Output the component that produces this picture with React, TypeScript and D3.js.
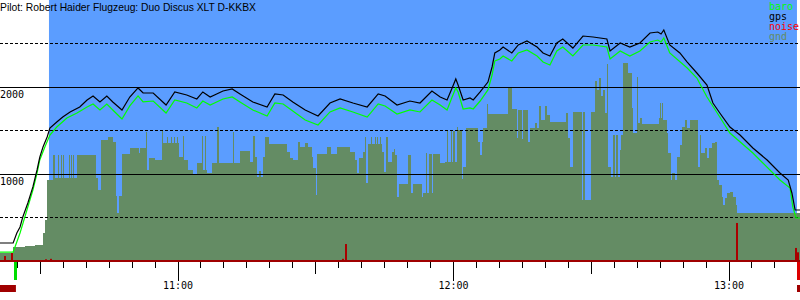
import React from 'react';
import * as d3 from 'd3';

const W = 800;
const H = 300;

const titleText = 'Pilot: Robert Haider Flugzeug: Duo Discus XLT D-KKBX';

// time in minutes after 10:00, altitude in metres
const flightWindow: [number, number] = [31.9, 194.8];
const takeoffMark = 24.6;
const landingMark = 195.2;
const preFlightSpan: [number, number] = [21.2, 24.7];

const solidAltLines = [1000, 2000];
const dashedAltLines = [500, 1500, 2500];
const altLabels = ['1000', '2000'];
const hourTicks = [60, 120, 180];
const hourLabels = ['11:00', '12:00', '13:00'];
const halfHourTicks = [30, 90, 150];

const legendLabels = ['baro', 'gps', 'noise', 'gnd'];
const legendColors = ['#00ff00', '#000000', '#ff0000', '#648c64'];

const groundProfile: [number, number][] = [
  [21.2, 92], [24.1, 161], [26.7, 172], [28.9, 184], [30.6, 322], [31.0, 471], [31.5, 931],
  [32.8, 1218], [33.2, 954], [33.9, 1218], [34.1, 954], [34.5, 1218], [34.7, 954], [35.0, 1218],
  [35.2, 954], [36.3, 1218], [36.5, 954], [36.7, 1218], [36.9, 954], [37.1, 1218], [37.4, 954],
  [38.0, 1218], [42.1, 954], [42.6, 816], [43.2, 1391], [44.8, 1425], [45.8, 1368], [46.5, 747],
  [46.7, 552], [47.2, 747], [47.8, 1230], [49.5, 1299], [51.5, 1241], [51.7, 1299], [53.0, 1483],
  [53.2, 1046], [53.7, 1184], [55.0, 1161], [56.5, 1506], [56.7, 1356], [57.6, 1425], [57.8, 1356],
  [58.5, 1425], [58.7, 1356], [59.1, 1425], [59.3, 1356], [59.8, 1425], [60.0, 1356], [60.2, 1195],
  [61.1, 1437], [61.3, 1161], [62.2, 1046], [63.3, 989], [64.1, 1126], [65.2, 1437], [65.4, 1046],
  [65.9, 1437], [66.1, 1046], [66.3, 1011], [67.4, 1126], [68.5, 1540], [68.9, 1126], [72.0, 1483],
  [72.2, 1126], [73.5, 1264], [75.7, 1138], [76.3, 1437], [76.8, 1195], [77.2, 966], [77.6, 1034],
  [78.1, 966], [78.5, 1195], [78.9, 1425], [79.8, 1345], [83.7, 1253], [84.4, 1184], [85.0, 1161],
  [86.1, 1368], [86.6, 1310], [87.7, 1356], [88.3, 1310], [89.2, 1195], [89.4, 1069], [90.0, 759],
  [90.3, 1230], [92.5, 1310], [93.3, 1230], [94.6, 1310], [97.5, 1253], [98.6, 1161], [99.0, 1011],
  [99.4, 1184], [100.3, 1253], [100.7, 1425], [100.9, 897], [101.4, 1345], [102.0, 1425],
  [102.3, 1345], [102.9, 1425], [103.1, 1345], [103.3, 1425], [103.6, 1345], [104.0, 1425],
  [104.2, 1345], [104.4, 1253], [104.9, 1023], [105.3, 1425], [105.7, 1138], [106.6, 1253],
  [107.0, 1287], [107.3, 1218], [107.7, 736], [108.1, 885], [110.1, 1218], [110.7, 782], [111.2, 885],
  [113.1, 736], [113.4, 782], [114.0, 1241], [114.2, 782], [114.7, 1230], [115.3, 782], [115.5, 1230],
  [117.1, 1126], [118.2, 1138], [118.6, 1494], [118.8, 1138], [119.5, 1494], [119.7, 1138],
  [119.9, 1494], [120.3, 1138], [120.8, 1540], [121.0, 1506], [121.9, 943], [122.1, 1080],
  [122.7, 1529], [125.3, 1368], [125.8, 1218], [126.2, 1368], [126.4, 1529], [127.3, 1805],
  [127.5, 1690], [131.9, 1989], [132.7, 1747], [133.8, 1414], [134.1, 1736], [134.9, 1402],
  [135.1, 1736], [136.2, 1368], [136.7, 1529], [137.8, 1586], [138.2, 1529], [138.6, 1782],
  [139.1, 1621], [139.9, 1782], [140.4, 1678], [141.0, 1598], [144.5, 1701], [144.9, 1414],
  [145.4, 1080], [146.0, 1713], [148.0, 701], [148.2, 1713], [148.6, 701], [149.9, 1713],
  [150.8, 2069], [151.3, 1966], [151.7, 2103], [152.1, 1897], [152.6, 1966], [153.0, 1701],
  [153.4, 2264], [153.7, 1080], [154.3, 966], [154.7, 1448], [155.2, 966], [155.4, 1448],
  [155.8, 966], [156.3, 1276], [156.5, 1448], [156.9, 2276], [158.0, 2161], [158.9, 1759],
  [159.1, 1471], [160.0, 2115], [160.2, 1586], [160.6, 1644], [161.1, 1575], [164.8, 1644],
  [165.0, 1816], [165.2, 1644], [165.4, 1816], [165.6, 1621], [166.5, 1471], [166.7, 1241],
  [167.4, 931], [167.6, 1011], [168.2, 931], [168.7, 1195], [169.3, 1333], [169.8, 1540],
  [170.4, 1621], [170.9, 1529], [171.5, 1621], [173.3, 1080], [173.7, 1448], [173.9, 1241],
  [174.8, 1299], [175.2, 1184], [175.6, 1299], [176.3, 1356], [177.0, 1368], [177.4, 931],
  [177.8, 874], [178.5, 736], [178.7, 644], [179.1, 724], [179.6, 782], [180.2, 793], [180.9, 736],
  [181.5, 644], [181.7, 552], [195.5, 552],
];

const gpsTrack: [number, number][] = [
  [21.2, 207], [24.1, 207], [24.9, 322], [25.6, 391], [26.2, 506], [27.3, 667], [28.4, 851],
  [29.3, 1046], [29.9, 1195], [30.6, 1310], [31.5, 1425], [32.1, 1529], [33.6, 1598], [34.9, 1655],
  [36.5, 1713], [38.6, 1770], [40.2, 1851], [41.5, 1897], [43.0, 1828], [44.5, 1897], [45.8, 1828],
  [47.8, 1736], [49.5, 1885], [51.3, 1989], [52.4, 1931], [54.6, 1931], [57.4, 1793], [59.3, 1943],
  [61.9, 1908], [64.1, 1862], [65.4, 1943], [67.0, 1885], [69.8, 1954], [71.8, 1977], [73.5, 1920],
  [76.3, 1828], [79.4, 1770], [81.1, 1920], [82.9, 1908], [85.0, 1828], [87.7, 1736], [90.5, 1667],
  [93.1, 1816], [95.3, 1862], [98.1, 1816], [101.2, 1770], [103.6, 1920], [105.1, 1897],
  [107.7, 1793], [110.5, 1839], [112.7, 1816], [115.3, 1954], [117.1, 1885], [118.6, 1851],
  [119.7, 1989], [120.5, 2092], [121.0, 2023], [122.1, 1851], [123.6, 1874], [124.3, 1851],
  [125.8, 1943], [127.5, 2057], [128.4, 2230], [129.0, 2391], [130.1, 2425], [130.8, 2460],
  [132.7, 2391], [134.1, 2483], [136.0, 2529], [138.2, 2460], [139.5, 2391], [141.0, 2356],
  [142.5, 2506], [143.8, 2552], [146.0, 2448], [148.2, 2586], [150.4, 2575], [153.4, 2552],
  [154.1, 2414], [156.3, 2506], [158.4, 2460], [160.6, 2506], [162.8, 2621], [164.5, 2632],
  [165.2, 2609], [165.8, 2655], [167.1, 2483], [169.3, 2391], [170.9, 2287], [173.0, 2161],
  [175.2, 2023], [176.5, 1816], [178.0, 1701], [180.2, 1540], [182.4, 1448], [185.2, 1299],
  [188.3, 1161], [191.1, 1011], [192.9, 931], [193.7, 782], [194.4, 586], [195.5, 586],
];

const baroTrack: [number, number][] = [
  [21.2, 103], [24.1, 103], [25.6, 322], [27.1, 586], [28.4, 816], [29.3, 1011], [29.9, 1161],
  [31.0, 1310], [32.1, 1448], [33.6, 1540], [35.8, 1644], [38.0, 1701], [40.2, 1770], [41.5, 1805],
  [43.0, 1736], [44.5, 1805], [45.8, 1736], [47.8, 1632], [49.5, 1782], [51.3, 1897], [52.4, 1828],
  [54.6, 1839], [57.4, 1701], [59.3, 1851], [61.9, 1816], [64.1, 1759], [65.4, 1839], [67.0, 1793],
  [69.8, 1862], [71.8, 1885], [73.5, 1828], [76.3, 1736], [79.4, 1667], [81.1, 1816], [82.9, 1805],
  [85.0, 1724], [87.7, 1621], [90.5, 1563], [93.1, 1713], [95.3, 1759], [98.1, 1713], [101.2, 1655],
  [103.6, 1805], [105.1, 1782], [107.7, 1690], [110.5, 1736], [112.7, 1713], [115.3, 1851],
  [117.1, 1793], [118.6, 1736], [119.7, 1885], [120.5, 1989], [121.0, 1943], [122.1, 1747],
  [123.6, 1759], [124.3, 1747], [125.8, 1839], [127.5, 1966], [128.4, 2138], [129.0, 2299],
  [130.1, 2322], [130.8, 2356], [132.7, 2299], [134.1, 2391], [136.0, 2425], [138.2, 2356],
  [139.5, 2287], [141.0, 2253], [142.5, 2414], [143.8, 2460], [146.0, 2356], [148.2, 2483],
  [150.4, 2483], [153.4, 2460], [154.1, 2322], [156.3, 2414], [158.4, 2356], [160.6, 2414],
  [162.8, 2517], [164.5, 2540], [165.2, 2517], [165.8, 2563], [167.1, 2391], [170.9, 2218],
  [173.0, 2103], [175.2, 1885], [178.0, 1655], [180.2, 1471], [185.2, 1241], [191.1, 931],
  [193.3, 839], [193.9, 621], [194.6, 494], [195.5, 494],
];

const noiseLevels: [number, number][] = [
  [22.3, 57], [23.8, 92], [31.2, 20], [32.3, 25], [96.0, 25], [96.5, 195], [181.7, 437],
  [194.6, 150], [195.1, 100],
];

export default function App() {
  const x = d3.scaleLinear().domain([60, 180]).range([178, 729]);
  const y = d3.scaleLinear().domain([0, 1000]).range([261, 174]);
  const crisp = (v: number) => Math.floor(v) + 0.5;

  const area = d3
    .area<[number, number]>()
    .x((d) => x(d[0]))
    .y0(y(0))
    .y1((d) => y(d[1]))
    .curve(d3.curveStepAfter);
  const line = d3
    .line<[number, number]>()
    .x((d) => x(d[0]))
    .y((d) => y(d[1]));

  const minorTicks = d3.range(25, 196, 5);
  const mono = '"DejaVu Sans Mono", monospace';

  return (
    <svg
      width={W}
      height={H}
      style={{ position: 'absolute', left: 0, top: 0, background: '#fff' }}
    >
      <rect x={0} y={0} width={W} height={H} fill="#fff" />
      <rect
        x={x(flightWindow[0])}
        y={0}
        width={x(flightWindow[1]) - x(flightWindow[0])}
        height={y(0)}
        fill="#5b9dff"
      />
      <path d={area(groundProfile) || ''} fill="#648c64" shapeRendering="crispEdges" />
      {solidAltLines.map((a) => (
        <line key={'s' + a} x1={0} x2={W} y1={crisp(y(a))} y2={crisp(y(a))} stroke="#000" strokeWidth={1} />
      ))}
      {dashedAltLines.map((a) => (
        <line
          key={'d' + a}
          x1={0}
          x2={W}
          y1={crisp(y(a))}
          y2={crisp(y(a))}
          stroke="#000"
          strokeWidth={1}
          strokeDasharray="3,2"
        />
      ))}
      {noiseLevels.map((d, i) => (
        <rect
          key={'n' + i}
          x={Math.round(x(d[0])) - 1}
          y={y(d[1])}
          width={2}
          height={y(0) - y(d[1])}
          fill="#aa0000"
        />
      ))}
      <path d={line(baroTrack) || ''} fill="none" stroke="#00ff00" strokeWidth={1.2} />
      <path d={line(gpsTrack) || ''} fill="none" stroke="#000" strokeWidth={1.2} />
      <line x1={0} x2={W} y1={y(0)} y2={y(0)} stroke="#a00000" strokeWidth={2} />
      {minorTicks.map((m) => {
        const len = hourTicks.includes(m) ? 19 : halfHourTicks.includes(m) ? 12 : 6;
        return (
          <line
            key={'t' + m}
            x1={crisp(x(m))}
            x2={crisp(x(m))}
            y1={262}
            y2={262 + len}
            stroke="#000"
            strokeWidth={1}
          />
        );
      })}
      <rect
        x={Math.floor(x(takeoffMark)) - 1}
        y={262}
        width={3}
        height={18}
        fill="#00dd00"
      />
      <rect x={Math.floor(x(landingMark)) - 1} y={262} width={3} height={18} fill="#dd0000" />
      <rect x={Math.floor(x(landingMark)) - 1} y={285} width={3} height={7} fill="#a00000" />
      <rect
        x={x(preFlightSpan[0])}
        y={285}
        width={x(preFlightSpan[1]) - x(preFlightSpan[0])}
        height={7}
        fill="#a00000"
      />
      {hourTicks.map((m, i) => (
        <text key={'h' + m} x={x(m)} y={289} textAnchor="middle" fontFamily={mono} fontSize={10} fill="#000">
          {hourLabels[i]}
        </text>
      ))}
      {solidAltLines.map((a, i) => (
        <text key={'l' + a} x={0} y={crisp(y(a)) + 10} fontFamily={mono} fontSize={10} fill="#000">
          {altLabels[i]}
        </text>
      ))}
      <text
        x={0}
        y={11}
        fontFamily='"Liberation Sans", Arial, sans-serif'
        fontSize={10.5}
        textLength={256}
        lengthAdjust="spacingAndGlyphs"
        fill="#000"
      >
        {titleText}
      </text>
      {legendLabels.map((l, i) => (
        <text key={'g' + l} x={769} y={10 + i * 10} fontFamily={mono} fontSize={10} fill={legendColors[i]}>
          {l}
        </text>
      ))}
    </svg>
  );
}
